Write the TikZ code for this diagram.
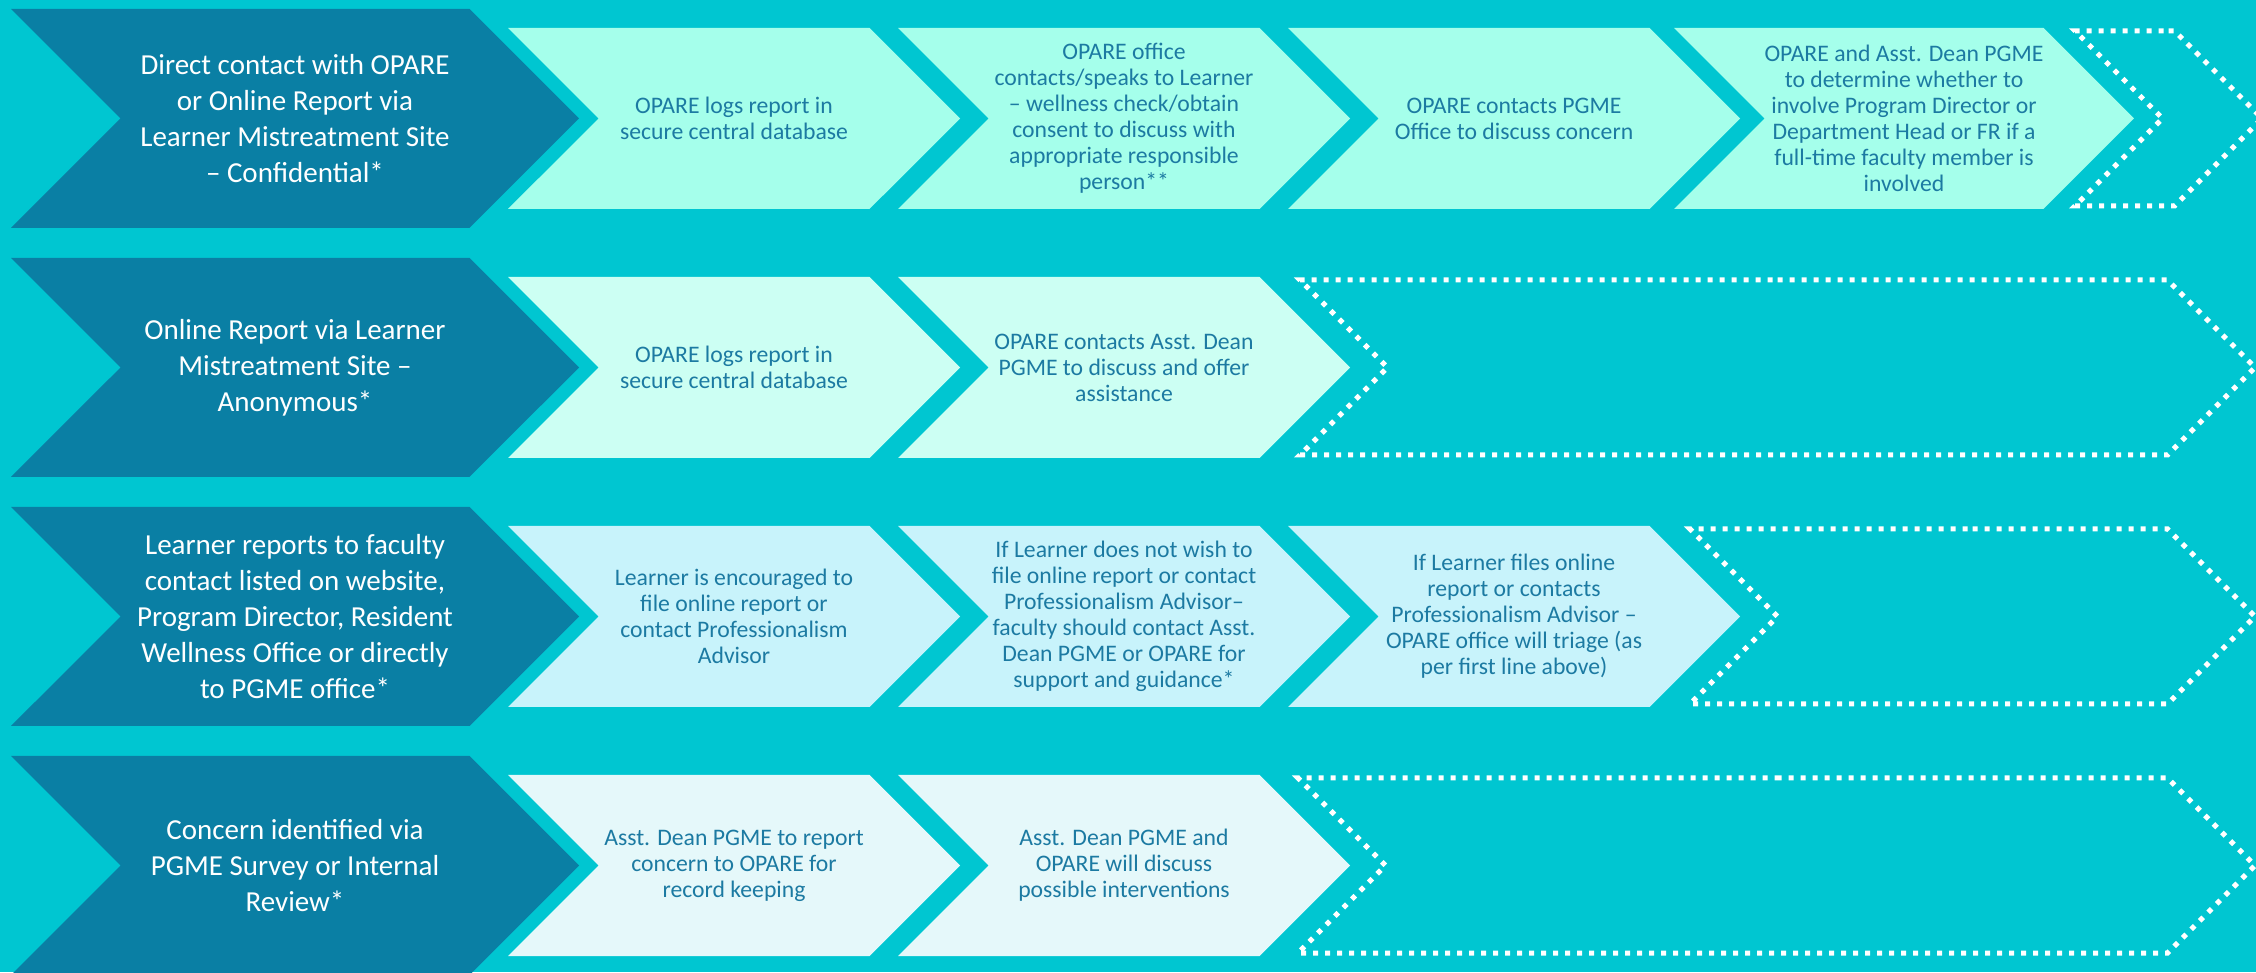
\documentclass[tikz,border=0pt]{standalone}
\usepackage{fontspec}
\setmainfont{Carlito}
\usetikzlibrary{shapes.symbols, positioning}
\definecolor{bgcyan}{HTML}{00C6D1}
\definecolor{leaddark}{HTML}{0A7FA4}
\definecolor{stagetext}{HTML}{1C7AA2}
\definecolor{rowone}{HTML}{A5FFEB}
\definecolor{rowtwo}{HTML}{CCFFF3}
\definecolor{rowthree}{HTML}{C8F3FB}
\definecolor{rowfour}{HTML}{E5F8FA}
\newcommand\leadfont{\fontsize{29}{36}\selectfont}
\newcommand\stagefont{\fontsize{23.7}{26}\selectfont}
\tikzset{
	chevron/.style = {signal, signal from=west, signal to=east, signal pointer angle=90, inner sep=0pt, align=center},
	leadbox/.style = {chevron, fill=leaddark, text=white, font=\leadfont, minimum width=568pt, minimum height=219pt},
	stagebox/.style = {chevron, text=stagetext, font=\stagefont, minimum width=452pt, minimum height=181pt},
	nextbox/.style = {chevron, draw=white, line width=5pt, dash pattern=on 5pt off 7pt, minimum height=175pt},
}
\begin{document}
\begin{tikzpicture}[x=1pt, y=1pt, node distance=249pt, on grid]

	\fill[bgcyan] (0,0) rectangle (2256,972);
	\useasboundingbox (0,0) rectangle (2256,972);
	\clip (0,0) rectangle (2256,972);

	% Direct contact (confidential)
	\node[leadbox] (direct) at (295,853.5) {Direct contact with OPARE\\or Online Report via\\Learner Mistreatment Site\\– Confidential*};
	\node[stagebox, fill=rowone, right=439pt of direct] (d1) {OPARE logs report in\\secure central database};
	\node[stagebox, fill=rowone, right=390pt of d1] (d2) {OPARE office\\contacts/speaks to Learner\\– wellness check/obtain\\consent to discuss with\\appropriate responsible\\person**};
	\node[stagebox, fill=rowone, right=390pt of d2] (d3) {OPARE contacts PGME\\Office to discuss concern};
	\node[stagebox, fill=rowone, right=390pt of d3] (d4) {OPARE and Asst. Dean PGME\\to determine whether to\\involve Program Director or\\Department Head or FR if a\\full-time faculty member is\\involved};
	\node[nextbox, minimum width=187pt, right=264.5pt of d4] (dnext) {};

	% Online report (anonymous)
	\node[leadbox, below=of direct] (online) {Online Report via Learner\\Mistreatment Site –\\Anonymous*};
	\node[stagebox, fill=rowtwo, right=439pt of online] (o1) {OPARE logs report in\\secure central database};
	\node[stagebox, fill=rowtwo, right=390pt of o1] (o2) {OPARE contacts Asst. Dean\\PGME to discuss and offer\\assistance};
	\node[nextbox, minimum width=955pt, right=653.5pt of o2] (onext) {};

	% Report to faculty
	\node[leadbox, below=of online] (faculty) {Learner reports to faculty\\contact listed on website,\\Program Director, Resident\\Wellness Office or directly\\to PGME office*};
	\node[stagebox, fill=rowthree, right=439pt of faculty] (f1) {Learner is encouraged to\\file online report or\\contact Professionalism\\Advisor};
	\node[stagebox, fill=rowthree, right=390pt of f1] (f2) {If Learner does not wish to\\file online report or contact\\Professionalism Advisor–\\faculty should contact Asst.\\Dean PGME or OPARE for\\support and guidance*};
	\node[stagebox, fill=rowthree, right=390pt of f2] (f3) {If Learner files online\\report or contacts\\Professionalism Advisor –\\OPARE office will triage (as\\per first line above)};
	\node[nextbox, minimum width=565pt, right=458.5pt of f3] (fnext) {};

	% Survey or internal review
	\node[leadbox, below=of faculty] (survey) {Concern identified via\\PGME Survey or Internal\\Review*};
	\node[stagebox, fill=rowfour, right=439pt of survey] (s1) {Asst. Dean PGME to report\\concern to OPARE for\\record keeping};
	\node[stagebox, fill=rowfour, right=390pt of s1] (s2) {Asst. Dean PGME and\\OPARE will discuss\\possible interventions};
	\node[nextbox, minimum width=957pt, right=652.5pt of s2] (snext) {};

\end{tikzpicture}
\end{document}
